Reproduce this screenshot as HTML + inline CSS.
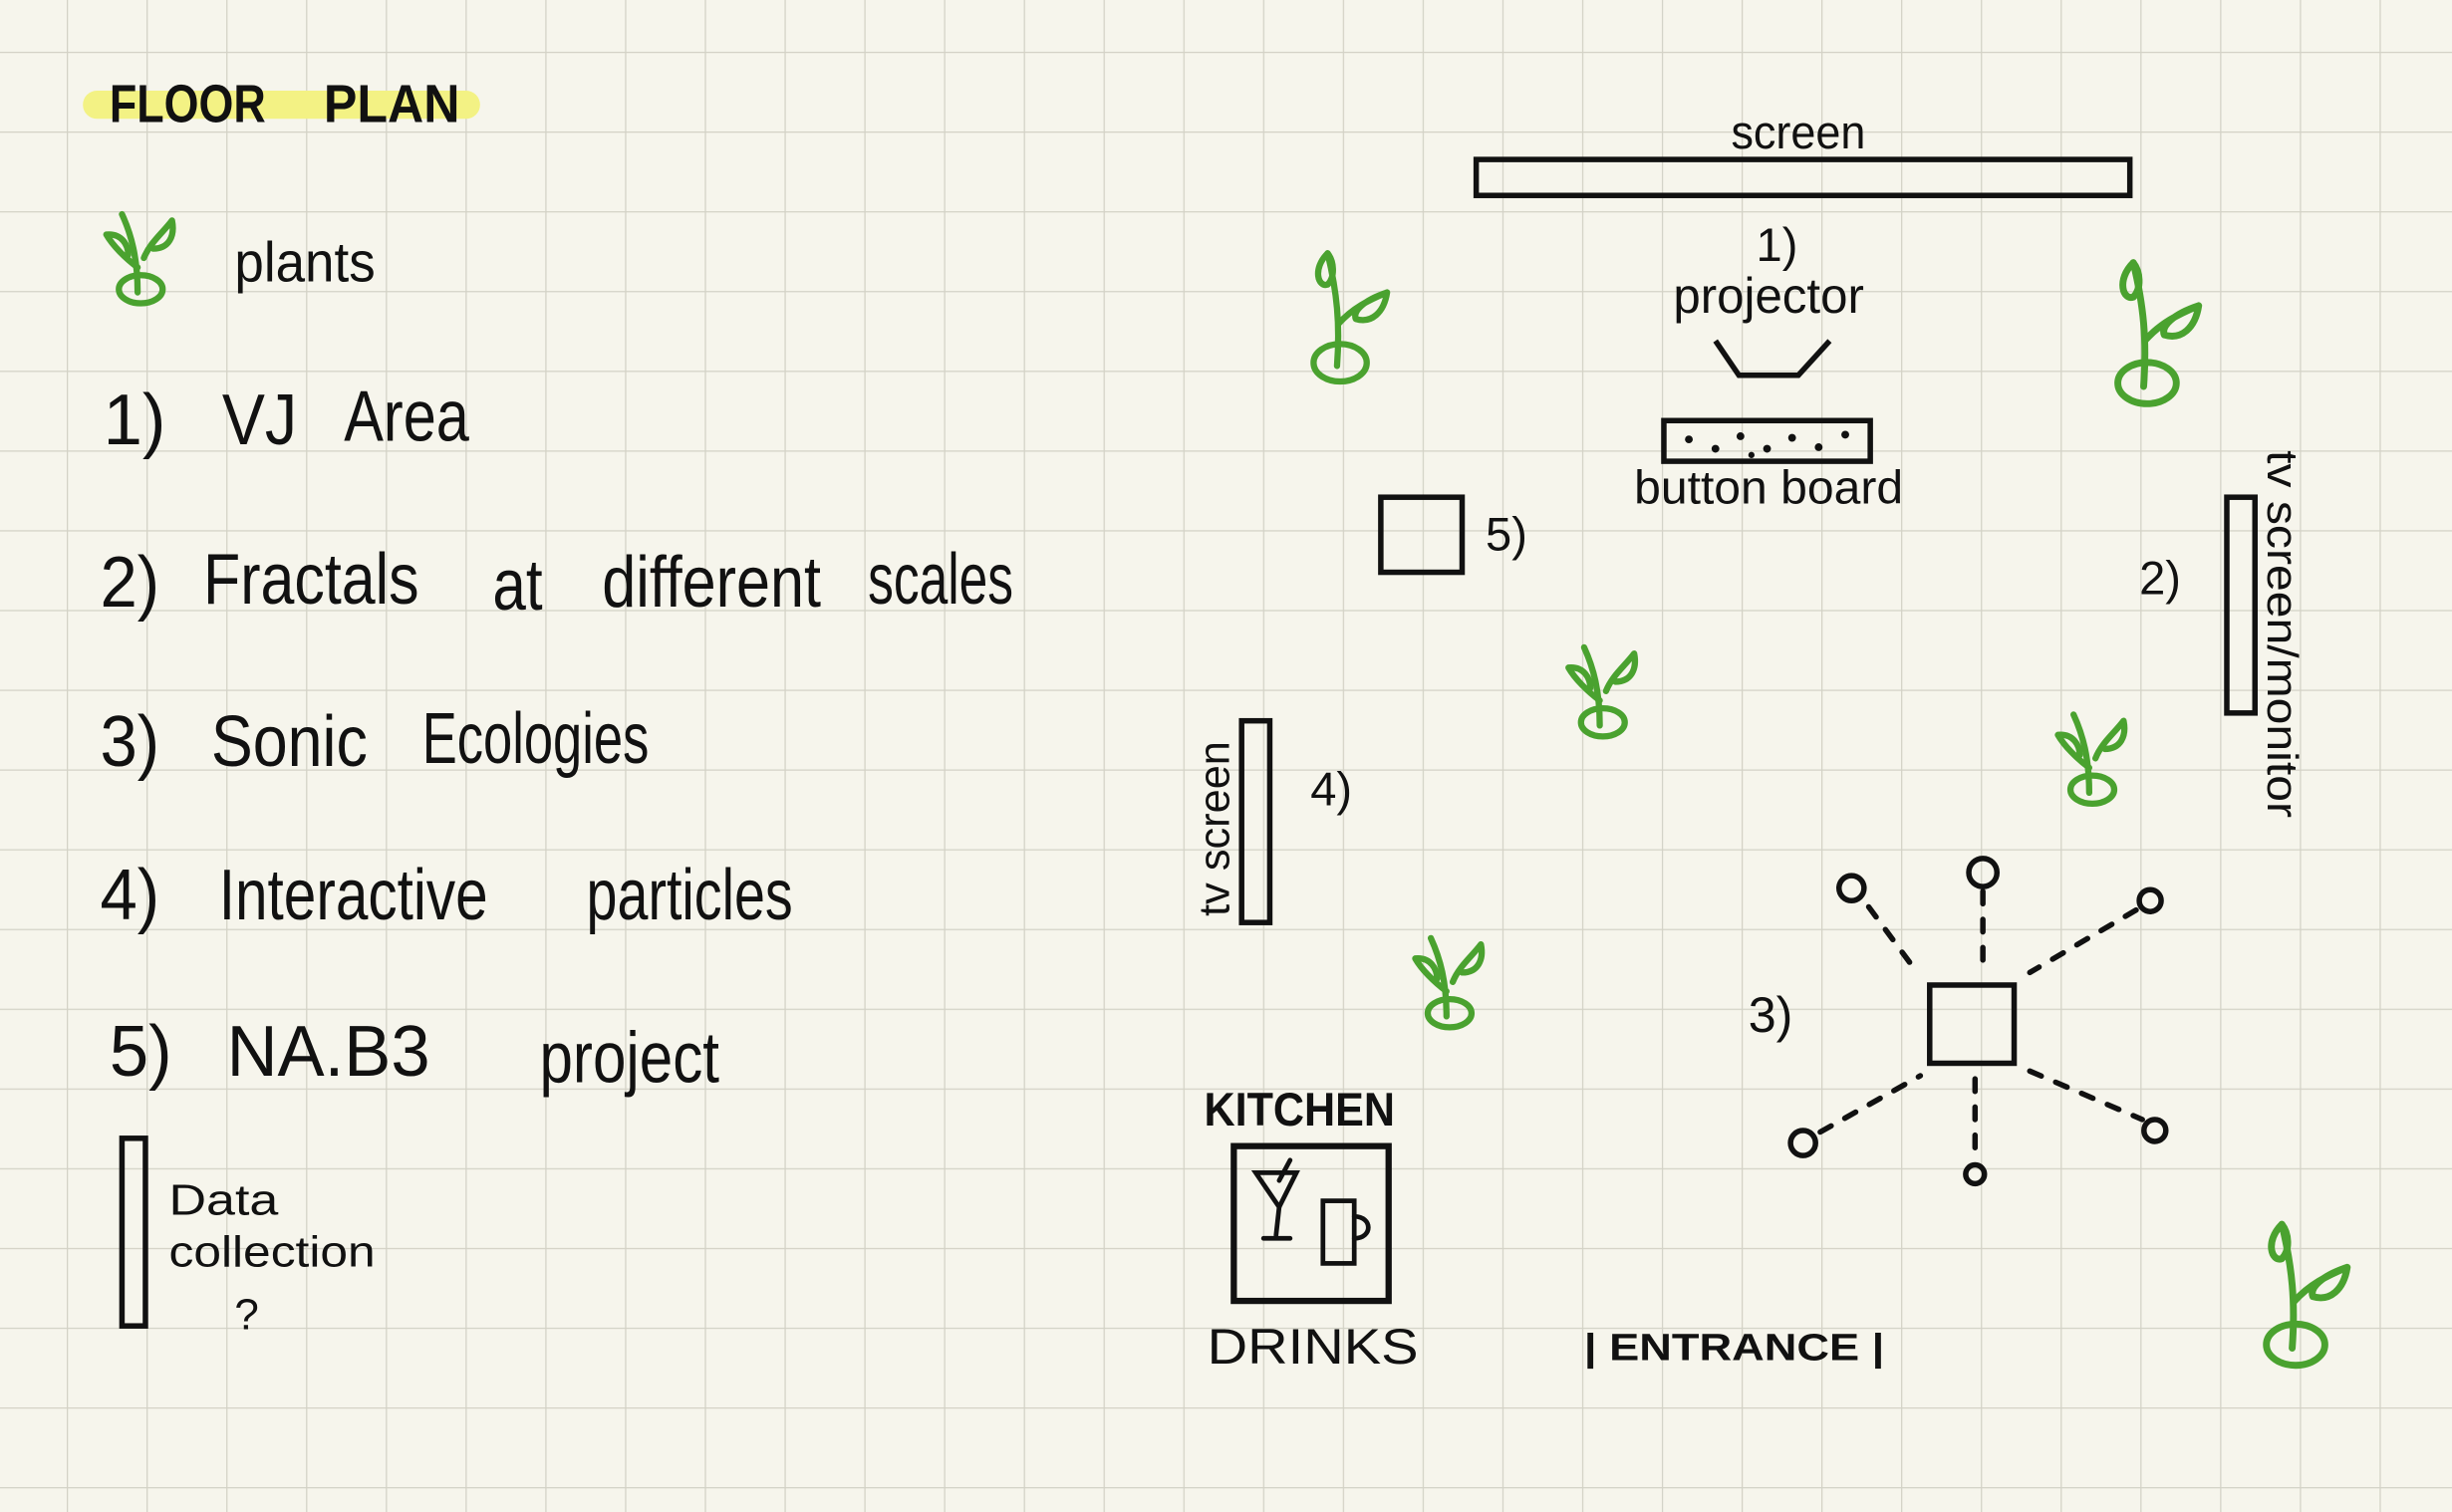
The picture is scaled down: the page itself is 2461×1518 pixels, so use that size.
<!DOCTYPE html>
<html><head><meta charset="utf-8"><style>
html,body{margin:0;padding:0;background:#f6f5ec;}
svg{display:block}
text{font-family:"Liberation Sans",sans-serif;fill:#111;}
</style></head><body>
<svg width="2461" height="1518" viewBox="0 0 1568 967" preserveAspectRatio="none" xmlns="http://www.w3.org/2000/svg">
<defs>
<pattern id="g" x="42.7" y="33.1" width="51" height="51" patternUnits="userSpaceOnUse">
<path d="M0 0V51M0 0H51" stroke="#d3d2c6" stroke-width="1.6" fill="none"/>
</pattern>
<g id="plant" fill="none" stroke="#4aa22f" stroke-width="4" stroke-linecap="round" stroke-linejoin="round">
<ellipse cx="0" cy="0" rx="17" ry="12"/>
<path d="M-2 2 C0 -25 -2 -45 -8 -70"/>
<path d="M-8 -70 C-18 -60 -14 -48 -8 -50 C-3 -55 -4 -65 -8 -70Z"/>
<path d="M-1 -25 C8 -35 18 -40 30 -45 C28 -32 20 -25 10 -28 C8 -33 15 -40 30 -45"/>
</g>
<g id="sprout" fill="none" stroke="#4aa22f" stroke-width="4" stroke-linecap="round" stroke-linejoin="round">
<ellipse cx="0" cy="0" rx="14" ry="9"/>
<path d="M-2 2 C-2 -20 -6 -35 -12 -48"/>
<path d="M-2 -14 C-10 -20 -18 -28 -22 -35 C-12 -36 -8 -28 -8 -22"/>
<path d="M2 -20 C6 -30 14 -36 20 -44 C22 -34 18 -26 8 -26"/>
</g>
</defs>
<rect width="1568" height="967" fill="#f6f5ec"/>
<rect width="1568" height="967" fill="url(#g)"/>

<line x1="62" y1="67" x2="298" y2="67" stroke="#f3f284" stroke-width="18" stroke-linecap="round"/>
<text x="70" y="78" font-size="34" font-weight="bold" textLength="100" lengthAdjust="spacingAndGlyphs">FLOOR</text>
<text x="207" y="78" font-size="34" font-weight="bold" textLength="87" lengthAdjust="spacingAndGlyphs">PLAN</text>

<use href="#sprout" x="90" y="185"/>
<text x="150" y="180" font-size="36" textLength="90" lengthAdjust="spacingAndGlyphs">plants</text>

<g font-size="46">
<text x="66" y="284" textLength="40" lengthAdjust="spacingAndGlyphs">1)</text><text x="142" y="284" textLength="48" lengthAdjust="spacingAndGlyphs">VJ</text><text x="220" y="282" textLength="80" lengthAdjust="spacingAndGlyphs">Area</text>
<text x="64" y="388" textLength="38" lengthAdjust="spacingAndGlyphs">2)</text><text x="130" y="386" textLength="138" lengthAdjust="spacingAndGlyphs">Fractals</text><text x="315" y="390" textLength="32" lengthAdjust="spacingAndGlyphs">at</text><text x="385" y="388" textLength="140" lengthAdjust="spacingAndGlyphs">different</text><text x="555" y="386" textLength="93" lengthAdjust="spacingAndGlyphs">scales</text>
<text x="64" y="490" textLength="38" lengthAdjust="spacingAndGlyphs">3)</text><text x="135" y="490" textLength="100" lengthAdjust="spacingAndGlyphs">Sonic</text><text x="270" y="488" textLength="145" lengthAdjust="spacingAndGlyphs">Ecologies</text>
<text x="64" y="588" textLength="38" lengthAdjust="spacingAndGlyphs">4)</text><text x="140" y="588" textLength="172" lengthAdjust="spacingAndGlyphs">Interactive</text><text x="375" y="588" textLength="132" lengthAdjust="spacingAndGlyphs">particles</text>
<text x="70" y="688" textLength="40" lengthAdjust="spacingAndGlyphs">5)</text><text x="145" y="688" textLength="130" lengthAdjust="spacingAndGlyphs">NA.B3</text><text x="345" y="692" textLength="115" lengthAdjust="spacingAndGlyphs">project</text>
</g>
<rect x="78" y="728" width="15" height="120" fill="none" stroke="#111" stroke-width="3.5"/>
<text x="108" y="777" font-size="28" textLength="70" lengthAdjust="spacingAndGlyphs">Data</text>
<text x="108" y="810" font-size="28" textLength="132" lengthAdjust="spacingAndGlyphs">collection</text>
<text x="150" y="850" font-size="28">?</text>

<!-- right -->
<text x="1107" y="95" font-size="30" textLength="86" lengthAdjust="spacingAndGlyphs">screen</text>
<rect x="944" y="102" width="418" height="23" fill="none" stroke="#111" stroke-width="3.5"/>
<text x="1123" y="167" font-size="30">1)</text>
<text x="1070" y="200" font-size="32" textLength="122" lengthAdjust="spacingAndGlyphs">projector</text>
<polyline points="1097,218 1112,240 1150,240 1170,218" fill="none" stroke="#111" stroke-width="3.5"/>
<rect x="1064" y="269" width="132" height="26" fill="none" stroke="#111" stroke-width="3.5"/>
<g fill="#111"><circle cx="1080" cy="281" r="2.5"/><circle cx="1097" cy="287" r="2.5"/><circle cx="1113" cy="279" r="2.5"/><circle cx="1130" cy="287" r="2.5"/><circle cx="1146" cy="280" r="2.5"/><circle cx="1163" cy="286" r="2.5"/><circle cx="1180" cy="278" r="2.5"/><circle cx="1120" cy="291" r="2"/></g>
<text x="1045" y="322" font-size="30" textLength="172" lengthAdjust="spacingAndGlyphs">button board</text>

<rect x="883" y="318" width="52" height="48" fill="none" stroke="#111" stroke-width="3.5"/>
<text x="950" y="352" font-size="30">5)</text>

<text x="1368" y="380" font-size="30">2)</text>
<rect x="1424" y="318" width="18" height="138" fill="none" stroke="#111" stroke-width="3.5"/>
<text transform="translate(1450,288) rotate(90)" font-size="28" textLength="235" lengthAdjust="spacingAndGlyphs">tv screen/monitor</text>

<rect x="794" y="461" width="18" height="129" fill="none" stroke="#111" stroke-width="3.5"/>
<text transform="translate(786,586) rotate(-90)" font-size="28" textLength="112" lengthAdjust="spacingAndGlyphs">tv screen</text>
<text x="838" y="515" font-size="30">4)</text>

<text x="1118" y="660" font-size="32">3)</text>
<rect x="1234" y="630" width="54" height="50" fill="none" stroke="#111" stroke-width="3.5"/>
<g fill="none" stroke="#111" stroke-width="3.5">
<circle cx="1184" cy="568" r="8"/><circle cx="1268" cy="558" r="9"/><circle cx="1375" cy="576" r="7"/>
<circle cx="1153" cy="731" r="8"/><circle cx="1263" cy="751" r="6"/><circle cx="1378" cy="723" r="7"/>
</g>
<g stroke="#111" stroke-width="3.5" stroke-dasharray="8 10" stroke-linecap="round" fill="none">
<line x1="1195" y1="580" x2="1226" y2="622"/>
<line x1="1268" y1="570" x2="1268" y2="624"/>
<line x1="1366" y1="582" x2="1298" y2="622"/>
<line x1="1164" y1="724" x2="1228" y2="688"/>
<line x1="1263" y1="690" x2="1263" y2="742"/>
<line x1="1298" y1="685" x2="1370" y2="716"/>
</g>

<text x="770" y="720" font-size="30" font-weight="bold" textLength="122" lengthAdjust="spacingAndGlyphs">KITCHEN</text>
<rect x="789" y="733" width="99" height="99" fill="none" stroke="#111" stroke-width="4"/>
<g fill="none" stroke="#111" stroke-width="3" stroke-linecap="round">
<path d="M803 750 L829 750 L818 772 Z"/><line x1="818" y1="772" x2="816" y2="790"/><line x1="808" y1="792" x2="825" y2="792"/>
<path d="M818 755 L825 742"/>
<rect x="846" y="768" width="20" height="40"/><path d="M866 778 C878 778 878 792 866 792"/>
</g>
<text x="772" y="872" font-size="32" textLength="135" lengthAdjust="spacingAndGlyphs">DRINKS</text>

<text x="1013" y="870" font-size="24" font-weight="bold" textLength="192" lengthAdjust="spacingAndGlyphs">| ENTRANCE |</text>

<use href="#plant" x="857" y="232"/>
<use href="#plant" x="1373" y="245" transform="translate(1373,245) scale(1.1) translate(-1373,-245)"/>
<use href="#sprout" x="1025" y="462"/>
<use href="#sprout" x="1338" y="505"/>
<use href="#sprout" x="927" y="648"/>
<use href="#plant" x="1468" y="860" transform="translate(1468,860) scale(1.1) translate(-1468,-860)"/>
</svg>
</body></html>
